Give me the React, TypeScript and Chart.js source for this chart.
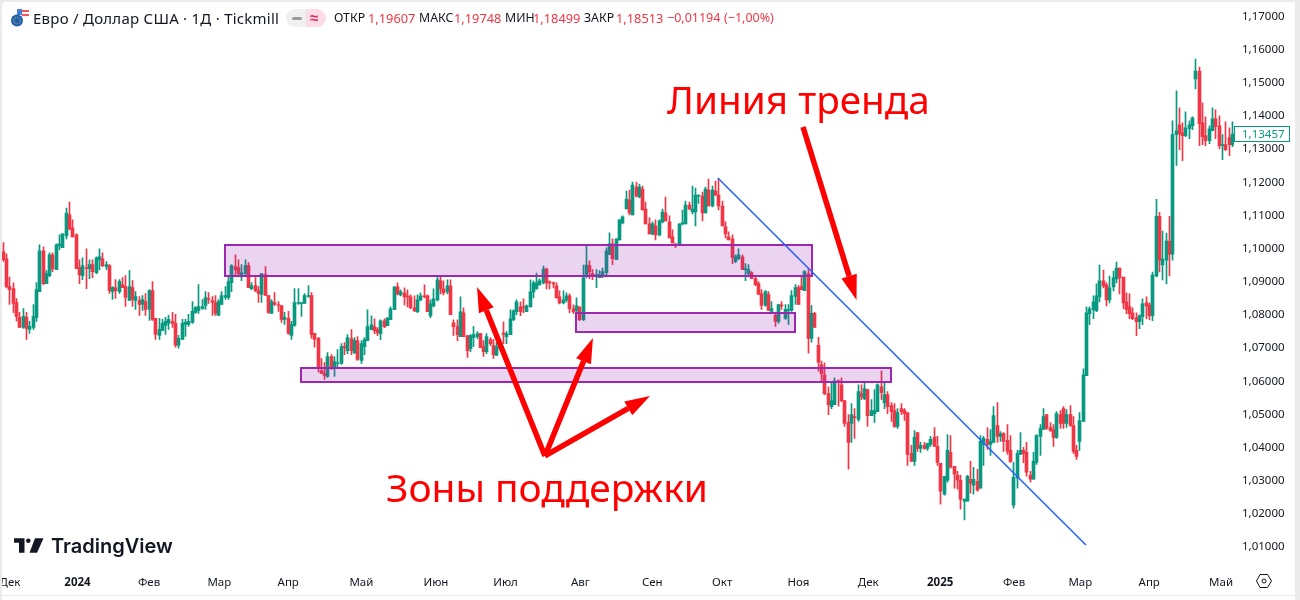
import React, { useEffect, useRef } from "react";
import { Chart, registerables } from "chart.js";

Chart.register(...registerables);

// EUR/USD daily candles, in units of 0.0001
const opens = [
10986,10965,10881,10875,10833,10788,10758,10788,10752,10758,
10788,10866,10989,10890,10914,10977,10932,11004,10998,11034,
11097,11058,11037,10938,10914,10938,10935,10947,10923,10962,
10965,10941,10944,10866,10878,10866,10887,10881,10839,10878,
10839,10839,10827,10836,10812,10869,10785,10734,10749,10764,
10770,10776,10770,10704,10722,10767,10767,10773,10803,10809,
10815,10824,10845,10839,10833,10794,10827,10848,10848,10893,
10941,10938,10911,10920,10944,10875,10884,10869,10857,10917,
10854,10800,10833,10827,10824,10782,10785,10734,10764,10830,
10830,10830,10851,10854,10740,10725,
10628,10619,10610,10670,10637,10649,10649,10700,10688,10724,
10682,10718,10658,10700,10718,10751,10760,10751,10739,10778,
10763,10781,10811,10880,10856,10862,10853,10850,10817,10805,
10841,10853,10853,10793,10823,10841,10898,10874,10865,10883,
10772,10760,10730,10802,10733,10694,10727,10730,10739,10700,
10685,10721,10703,10673,10694,10741,10730,10736,10781,10805,
10820,10820,10805,10820,10865,10874,10886,10892,10934,10895,
10892,10883,10850,10832,10841,10853,10814,10808,10820,10781,
10916,
10944,10920,10911,10908,10911,10923,10977,11010,10962,11022,
11073,11115,11142,11097,11181,11151,11175,11115,11070,11040,
11064,11037,11076,11103,11076,11031,11010,11007,11070,11070,
11127,11106,11106,11154,11154,11103,11172,11124,11169,11157,
11124,11061,11031,11025,10956,10965,10971,10932,10920,10923,
10905,10890,10860,10824,10857,10806,10794,10776,10826,10785,
10809,10809,10851,10878,10881,10869,10920,10725,10800,10704,
10645,10615,10558,10519,10525,10597,10585,10537,10471,10468,
10489,10480,10558,10543,10570,10492,10498,10504,10579,10531,
10555,10522,10507,10459,10513,10507,10501,10378,10354,10441,
10393,10402,10393,10405,10426,10399,10348,10255,10297,10381,
10339,10312,10297,10234,10234,10300,10282,10294,10273,10405,
10420,10405,10411,10462,10429,10438,10417,10387,10222,10303,
10375,10387,10381,10312,10300,10351,10429,10450,10495,10456,
10450,10426,10495,10513,10468,10495,10462,10387,10414,10474,
10612,10799,10811,10808,10850,10898,10886,10841,10880,10904,
10937,10910,10835,10820,10802,10787,10775,10790,10832,10826,
10793,10913,11093,10946,10961,11018,10979,11339,11369,11345,
11336,11357,11366,11507,11531,11375,11336,11321,11351,11387,
11366,11306,11309,11330,11309,
];
const highs = [
11014,10980,10910,10892,10845,10803,10815,10803,10776,10827,
10893,11007,11001,10929,10983,10983,11010,11037,11040,11118,
11136,11082,11040,10962,10968,10995,10962,10962,10971,10995,
10983,10956,10947,10881,10902,10902,10908,10914,10929,10899,
10866,10851,10854,10860,10872,10896,10785,10785,10782,10788,
10794,10803,10797,10734,10782,10782,10797,10836,10821,10887,
10842,10866,10863,10851,10854,10842,10866,10881,10914,10947,
10977,10962,10947,10962,10953,10893,10908,10881,10920,10941,
10854,10842,10863,10836,10824,10803,10806,10776,10875,10875,
10833,10860,10884,10863,10740,10728,
10664,10652,10682,10676,10670,10691,10709,10712,10736,10751,
10727,10730,10718,10727,10811,10793,10784,10757,10781,10784,
10787,10820,10880,10892,10871,10877,10871,10856,10853,10856,
10862,10886,10856,10841,10874,10910,10913,10898,10901,10901,
10781,10781,10850,10817,10733,10736,10760,10745,10739,10718,
10739,10727,10721,10712,10712,10775,10745,10811,10811,10841,
10835,10844,10826,10901,10898,10922,10904,10943,10937,10898,
10895,10892,10868,10868,10862,10859,10826,10847,10820,10946,
11006,
10959,10932,10932,10929,10937,10998,11043,11025,11025,11082,
11094,11169,11172,11196,11196,11190,11184,11136,11088,11076,
11082,11082,11115,11151,11094,11052,11010,11070,11112,11139,
11136,11184,11178,11157,11166,11181,11205,11184,11199,11205,
11139,11076,11046,11037,10977,10995,10977,10950,10947,10926,
10914,10896,10872,10869,10866,10836,10800,10827,10836,10827,
10827,10869,10887,10884,10914,10929,10935,10824,10803,10728,
10656,10651,10579,10594,10606,10600,10606,10537,10495,10528,
10513,10585,10585,10594,10570,10540,10570,10588,10627,10591,
10564,10531,10528,10513,10528,10513,10501,10402,10447,10441,
10411,10411,10408,10429,10456,10429,10348,10309,10435,10432,
10339,10324,10312,10240,10312,10354,10336,10330,10432,10429,
10456,10450,10519,10531,10444,10441,10465,10432,10351,10387,
10441,10396,10411,10324,10381,10435,10465,10513,10495,10471,
10465,10504,10507,10519,10510,10522,10489,10402,10501,10633,
10820,10820,10853,10889,10946,10931,10892,10913,10928,10955,
10937,10910,10862,10859,10817,10802,10796,10844,10850,10832,
10925,11144,11105,11048,11042,11093,11381,11471,11420,11375,
11408,11381,11393,11567,11543,11435,11393,11366,11420,11414,
11396,11339,11378,11360,11378,
];
const lows = [
10957,10877,10827,10802,10777,10758,10755,10722,10740,10752,
10776,10866,10887,10890,10911,10926,10932,10992,10998,11025,
11052,11031,10935,10890,10902,10875,10905,10908,10920,10932,
10941,10932,10860,10842,10845,10860,10878,10821,10839,10821,
10812,10794,10809,10794,10779,10779,10722,10722,10749,10737,
10752,10758,10698,10695,10722,10731,10761,10770,10800,10800,
10812,10812,10830,10794,10794,10794,10827,10842,10842,10866,
10917,10917,10899,10917,10878,10872,10866,10833,10833,10854,
10800,10800,10824,10806,10773,10767,10737,10722,10761,10827,
10791,10830,10848,10725,10698,10623,
10619,10601,10607,10631,10610,10637,10646,10676,10679,10676,
10679,10658,10649,10676,10718,10751,10739,10733,10721,10757,
10763,10781,10811,10856,10853,10826,10820,10814,10805,10802,
10838,10847,10805,10787,10820,10838,10859,10856,10859,10796,
10733,10718,10730,10730,10667,10685,10700,10724,10697,10670,
10679,10703,10664,10673,10688,10709,10709,10736,10778,10796,
10793,10802,10805,10820,10847,10874,10886,10889,10874,10874,
10877,10847,10829,10829,10835,10802,10799,10802,10778,10778,
10907,
10905,10902,10878,10908,10908,10914,10977,10947,10962,11022,
11070,11115,11097,11097,11151,11148,11112,11070,11040,11037,
11022,11034,11073,11079,11028,11013,10998,11007,11067,11070,
11112,11100,11064,11132,11079,11103,11124,11121,11157,11112,
11064,11028,11022,10950,10953,10962,10932,10899,10917,10905,
10884,10857,10812,10822,10809,10802,10761,10770,10812,10782,
10767,10806,10827,10827,10872,10869,10680,10713,10758,10626,
10593,10555,10495,10513,10525,10520,10534,10459,10330,10411,
10423,10474,10540,10540,10459,10492,10471,10504,10540,10513,
10498,10474,10456,10453,10495,10477,10342,10354,10342,10384,
10381,10390,10387,10399,10399,10342,10225,10252,10291,10333,
10273,10270,10210,10177,10234,10258,10255,10264,10273,10342,
10390,10372,10411,10411,10414,10384,10375,10351,10213,10273,
10375,10350,10309,10291,10300,10345,10372,10450,10450,10444,
10399,10423,10453,10453,10456,10459,10378,10360,10387,10474,
10612,10766,10784,10805,10835,10877,10823,10832,10868,10892,
10859,10814,10799,10784,10781,10733,10754,10766,10784,10781,
10778,10910,10925,10901,10889,10913,10961,11246,11294,11261,
11333,11327,11354,11477,11306,11309,11306,11312,11351,11327,
11297,11264,11291,11276,11303,
];
const closes = [
10962,10881,10872,10830,10791,10758,10791,10755,10761,10791,
10872,10989,10890,10920,10977,10935,11007,11010,11040,11103,
11055,11031,10935,10917,10944,10935,10947,10926,10968,10971,
10944,10947,10869,10878,10869,10896,10878,10848,10881,10842,
10851,10827,10842,10812,10869,10782,10737,10752,10770,10776,
10782,10770,10704,10725,10770,10773,10776,10806,10818,10821,
10821,10848,10842,10833,10800,10836,10854,10854,10896,10944,
10932,10920,10923,10944,10878,10884,10869,10860,10920,10854,
10803,10836,10827,10824,10782,10788,10740,10767,10833,10833,
10833,10854,10854,10737,10722,10635,
10619,10613,10670,10637,10655,10652,10700,10697,10727,10688,
10718,10661,10709,10721,10760,10766,10748,10742,10778,10760,
10787,10814,10880,10859,10865,10850,10850,10817,10808,10841,
10853,10850,10805,10829,10844,10901,10874,10862,10883,10796,
10760,10736,10805,10730,10688,10733,10736,10739,10697,10685,
10730,10709,10676,10700,10709,10737,10739,10784,10808,10835,
10805,10817,10823,10865,10892,10892,10898,10934,10892,10892,
10889,10847,10832,10841,10853,10814,10805,10823,10781,10907,
10946,
10926,10914,10917,10917,10926,10989,11010,10965,11025,11082,
11091,11145,11103,11187,11154,11181,11112,11070,11040,11070,
11037,11079,11106,11079,11028,11013,11004,11070,11073,11127,
11115,11115,11157,11157,11103,11175,11124,11172,11157,11124,
11064,11040,11022,10968,10971,10977,10932,10935,10932,10905,
10887,10857,10824,10866,10809,10815,10776,10827,10822,10812,
10812,10854,10878,10827,10872,10926,10725,10800,10758,10653,
10618,10558,10525,10537,10597,10594,10537,10468,10411,10495,
10486,10564,10549,10573,10492,10507,10507,10585,10561,10555,
10519,10504,10459,10501,10504,10498,10375,10354,10426,10393,
10402,10393,10408,10420,10399,10351,10264,10309,10387,10336,
10315,10297,10240,10240,10309,10288,10300,10267,10414,10423,
10405,10414,10492,10429,10438,10414,10384,10354,10306,10378,
10387,10378,10321,10300,10354,10432,10453,10489,10453,10447,
10426,10498,10468,10468,10495,10462,10384,10369,10477,10615,
10802,10814,10835,10853,10898,10883,10841,10877,10907,10937,
10907,10832,10811,10799,10784,10775,10793,10829,10823,10793,
10916,11093,10961,10964,11018,10979,11339,11351,11342,11336,
11360,11369,11390,11531,11372,11333,11321,11357,11387,11363,
11306,11309,11294,11309,11341,
];

const PIP = 10000;
const UP = "#089981";
const DOWN = "#F23645";

const yTicks = [1.01, 1.02, 1.03, 1.04, 1.05, 1.06, 1.07, 1.08, 1.09, 1.1, 1.11, 1.12, 1.13, 1.14, 1.15, 1.16, 1.17];
const monthLabels = ["Дек", "2024", "Фев", "Мар", "Апр", "Май", "Июн", "Июл", "Авг", "Сен", "Окт", "Ноя", "Дек", "2025", "Фев", "Мар", "Апр", "Май"];
const monthIndex = [2, 22.4, 44, 65.2, 86, 108.1, 130.6, 151.6, 174.2, 195.9, 217, 240, 261.1, 282.8, 305.1, 325.1, 345.9, 367.6];

// Drawings on the chart, in candle-index / price coordinates
const zones = [
  { from: 66.9, to: 244.1, top: 1.10064, bottom: 1.09129 },
  { from: 172.9, to: 239.0, top: 1.08013, bottom: 1.0744 },
  { from: 89.9, to: 268.1, top: 1.06355, bottom: 1.05933 },
];
const trendLine = { from: [215.7, 1.12084], to: [326.8, 1.01017] };
const arrows = [
  { from: [241.4, 1.13622], to: [257.55, 1.08405] },
  { from: [163.5, 1.03701], to: [143.0, 1.08797] },
  { from: [163.5, 1.03701], to: [178.0, 1.07259] },
  { from: [163.5, 1.03701], to: [195.2, 1.0551] },
];
const lastPriceLabel = "1,13457";

const fmt = (v: number) => v.toFixed(5).replace(".", ",");
const AXIS_FONT = '"Noto Sans", sans-serif';

function noPadding(s: any) {
  s.paddingLeft = 0;
  s.paddingRight = 0;
  s.paddingTop = 0;
  s.paddingBottom = 0;
}

function App() {
  const ref = useRef<HTMLCanvasElement>(null);

  useEffect(() => {
    document.body.style.margin = "0";
    document.body.style.background = "#fff";
    const colors = opens.map((o, i) => (closes[i] >= o ? UP : DOWN));

    const drawings = {
      id: "drawings",
      beforeDatasetsDraw(chart: any) {
        // pixel-snap the candles, as the original renderer does
        chart.getSortedVisibleDatasetMetas().forEach((m: any) =>
          m.data.forEach((el: any) => {
            el.x = Math.floor(el.x) + 0.5;
          })
        );
      },
      afterDatasetsDraw(chart: any) {
        const { ctx, scales } = chart;
        const X = (v: number) => scales.x.getPixelForValue(v);
        const Y = (v: number) => scales.y.getPixelForValue(v);
        ctx.save();
        zones.forEach((z) => {
          const x0 = Math.round(X(z.from));
          const x1 = Math.round(X(z.to));
          const y0 = Math.round(Y(z.top));
          const y1 = Math.round(Y(z.bottom));
          ctx.fillStyle = "rgba(156,39,176,0.2)";
          ctx.fillRect(x0, y0, x1 - x0, y1 - y0);
          ctx.strokeStyle = "#9c27b0";
          ctx.lineWidth = 2;
          ctx.strokeRect(x0, y0, x1 - x0, y1 - y0);
        });
        ctx.strokeStyle = "#2962ff";
        ctx.lineWidth = 1.6;
        ctx.beginPath();
        ctx.moveTo(X(trendLine.from[0]), Y(trendLine.from[1]));
        ctx.lineTo(X(trendLine.to[0]), Y(trendLine.to[1]));
        ctx.stroke();
        ctx.strokeStyle = "#ff0000";
        ctx.fillStyle = "#ff0000";
        ctx.lineWidth = 5.5;
        arrows.forEach((a) => {
          const x0 = X(a.from[0]);
          const y0 = Y(a.from[1]);
          const x1 = X(a.to[0]);
          const y1 = Y(a.to[1]);
          const ang = Math.atan2(y1 - y0, x1 - x0);
          const head = 25;
          const half = 8;
          const bx = x1 - head * Math.cos(ang);
          const by = y1 - head * Math.sin(ang);
          ctx.beginPath();
          ctx.moveTo(x0, y0);
          ctx.lineTo(bx, by);
          ctx.stroke();
          ctx.beginPath();
          ctx.moveTo(x1, y1);
          ctx.lineTo(bx - half * Math.sin(ang), by + half * Math.cos(ang));
          ctx.lineTo(bx + half * Math.sin(ang), by - half * Math.cos(ang));
          ctx.closePath();
          ctx.fill();
        });
        ctx.restore();
      },
      afterDraw(chart: any) {
        const { ctx, scales } = chart;
        ctx.save();
        // last price tag
        const py = Math.round(scales.y.getPixelForValue(closes[closes.length - 1] / PIP));
        ctx.fillStyle = "#fff";
        ctx.fillRect(1234, py - 8, 56, 16);
        ctx.strokeStyle = UP;
        ctx.lineWidth = 1;
        ctx.strokeRect(1234.5, py - 7.5, 55, 15);
        ctx.fillStyle = UP;
        ctx.font = `11.5px ${AXIS_FONT}`;
        ctx.textBaseline = "middle";
        ctx.fillText(lastPriceLabel, 1242, py + 1);
        // window frame
        ctx.fillStyle = "#ebebeb";
        ctx.beginPath();
        ctx.rect(0, 0, 1300, 600);
        ctx.roundRect(2, 2, 1293, 598, [4, 0, 0, 0]);
        ctx.fill("evenodd");
        ctx.fillRect(2, 595, 1293, 1);
        ctx.restore();
      },
    };

    const chart = new Chart(ref.current as HTMLCanvasElement, {
      type: "bar",
      data: {
        labels: opens.map((_, i) => String(i)),
        datasets: [
          {
            label: "Тени",
            data: lows.map((l, i) => [l / PIP, highs[i] / PIP]),
            backgroundColor: colors,
            barThickness: 1,
            grouped: false,
          } as any,
          {
            label: "Тела",
            data: opens.map((o, i) => [o / PIP, closes[i] / PIP]),
            backgroundColor: colors,
            barThickness: 3,
            minBarLength: 1,
            grouped: false,
          } as any,
        ],
      },
      options: {
        responsive: false,
        animation: false,
        layout: { autoPadding: false, padding: { left: 1.65, top: 2, right: 0, bottom: 0 } },
        plugins: { legend: { display: false }, tooltip: { enabled: false } },
        events: [],
        scales: {
          x: {
            grid: { display: false, drawTicks: false },
            border: { display: false },
            afterFit(s: any) {
              s.height = 33;
              noPadding(s);
            },
            afterBuildTicks(s: any) {
              s.ticks = monthIndex.map((v) => ({ value: v }));
            },
            ticks: {
              autoSkip: false,
              maxRotation: 0,
              padding: 8.5,
              color: "#131722",
              callback: (_: any, i: number) => monthLabels[i],
              font: (c: any) => ({
                family: AXIS_FONT,
                size: 11.5,
                weight: c.tick && /^20/.test(String(c.tick.label)) ? "bold" : "normal",
              }),
            },
          } as any,
          y: {
            position: "right",
            min: 1.00353,
            max: 1.17392,
            grid: { display: false, drawTicks: false },
            border: { display: false },
            afterFit(s: any) {
              s.width = 66;
              noPadding(s);
            },
            afterBuildTicks(s: any) {
              s.ticks = yTicks.map((v) => ({ value: v }));
            },
            ticks: {
              padding: 8,
              labelOffset: 1.5,
              color: "#131722",
              font: { family: AXIS_FONT, size: 11.5 },
              callback: (v: any) => fmt(Number(v)),
            },
          } as any,
        },
      },
      plugins: [drawings],
    } as any);
    return () => chart.destroy();
  }, []);

  const abs = (left: number, top: number, extra: any = {}) => ({
    position: "absolute" as const,
    left,
    top,
    whiteSpace: "nowrap" as const,
    lineHeight: 1,
    fontFamily: '"Noto Sans", sans-serif',
    ...extra,
  });
  const hdr = (t: string, left: number, color = "#131722", size = 12.3) => (
    <span key={t + left} style={abs(left, 12, { fontSize: size, color })}>
      {t}
    </span>
  );

  return (
    <div style={{ position: "relative", width: 1300, height: 600, overflow: "hidden" }}>
      <canvas ref={ref} width={1300} height={600} style={{ position: "absolute", left: 0, top: 0, display: "block" }} />

      <svg width={20} height={20} style={{ position: "absolute", left: 10, top: 8 }}>
        <rect x={7} y={1} width={11} height={9} rx={1} fill="#f7f7f7" />
        <rect x={7} y={1} width={5} height={6} fill="#4a7fd6" />
        <rect x={12} y={2} width={7} height={2} fill="#f0545c" />
        <rect x={12} y={6} width={7} height={2} fill="#f0545c" />
        <circle cx={7} cy={12.5} r={6} fill="#1f5fb0" />
        <circle cx={7} cy={12.5} r={3.3} fill="none" stroke="#f2c53d" strokeWidth={1} strokeDasharray="1 1.2" />
      </svg>
      <span style={abs(33, 11, { fontSize: 15, letterSpacing: 0.25, color: "#131722" })}>Евро / Доллар США · 1Д · Tickmill</span>

      <div style={{ position: "absolute", left: 286, top: 9, width: 20, height: 18, background: "#f0f0f0", borderRadius: "9px 0 0 9px" }} />
      <div style={{ position: "absolute", left: 306, top: 9, width: 20, height: 18, background: "#fcdde6", borderRadius: "0 9px 9px 0" }} />
      <div style={{ position: "absolute", left: 292, top: 16.5, width: 10, height: 3.5, background: "#9a9a9a", borderRadius: 2 }} />
      <span style={abs(310, 9.5, { fontSize: 15, color: "#e91e63", fontWeight: 700 })}>≈</span>

      {hdr("ОТКР", 334)}
      {hdr("1,19607", 368, DOWN, 12.8)}
      {hdr("МАКС", 419)}
      {hdr("1,19748", 454, DOWN, 12.8)}
      {hdr("МИН", 505)}
      {hdr("1,18499", 533, DOWN, 12.8)}
      {hdr("ЗАКР", 584)}
      {hdr("1,18513", 616, DOWN, 12.8)}
      {hdr("−0,01194", 667, DOWN, 12.5)}
      {hdr("(−1,00%)", 724, DOWN, 12.5)}

      <span style={abs(667, 80, { fontSize: 38.7, color: "#ff0000" })}>Линия тренда</span>
      <span style={abs(386, 468, { fontSize: 38.9, color: "#ff0000" })}>Зоны поддержки</span>

      <svg width={32} height={18} style={{ position: "absolute", left: 13, top: 537 }}>
        <path d="M1 1.3H11.5V15.7H6V5.8H1Z" fill="#131722" />
        <circle cx={15.3} cy={3.7} r={2.3} fill="#131722" />
        <path d="M22 1.3H30.5L24 15.7H16.5Z" fill="#131722" />
      </svg>
      <span style={abs(51, 536, { fontSize: 20, fontWeight: 600, color: "#131722", fontFamily: 'Inter, "Noto Sans", sans-serif' })}>TradingView</span>

      <svg width={18} height={18} style={{ position: "absolute", left: 1255, top: 572 }}>
        <path d="M5 2.5H12.5L16.5 9L12.5 15.5H5L1.5 9Z" fill="none" stroke="#131722" strokeWidth={1} />
        <circle cx={9} cy={9} r={2} fill="none" stroke="#131722" strokeWidth={1} />
      </svg>
    </div>
  );
}

export default App;
